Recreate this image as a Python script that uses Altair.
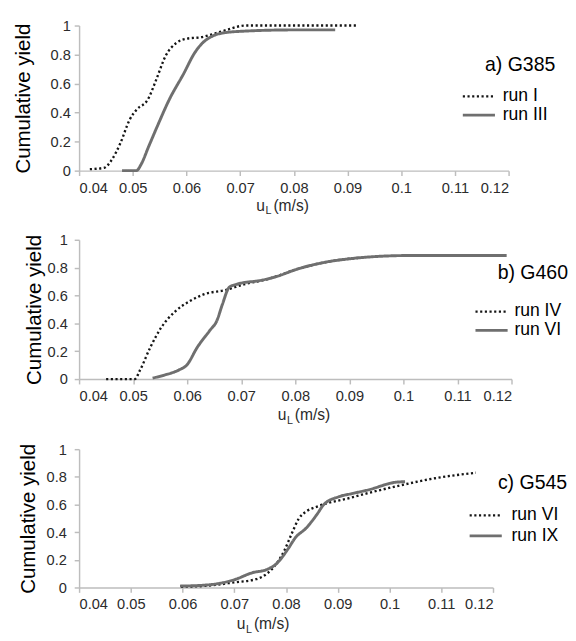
import altair as alt
import pandas as pd

FONT = "Liberation Sans"

# ---------------- data ----------------
# panel a) G385
a_run1_u = [0.042, 0.0447, 0.046, 0.0477, 0.0494, 0.0507, 0.0528, 0.0544, 0.0561, 0.0581,
            0.0601, 0.0628, 0.0648, 0.0675, 0.0709, 0.0917]
a_run1_y = [0.01, 0.02, 0.07, 0.19, 0.35, 0.42, 0.49, 0.63, 0.79, 0.88,
            0.91, 0.92, 0.94, 0.97, 1.0, 1.0]
a_run3_u = [0.048, 0.0507, 0.0515, 0.053, 0.0545, 0.0568, 0.0595, 0.0615, 0.063, 0.065,
            0.067, 0.07, 0.08, 0.0877]
a_run3_y = [0.0, 0.0, 0.04, 0.17, 0.30, 0.49, 0.67, 0.81, 0.88, 0.93,
            0.95, 0.96, 0.97, 0.97]

# panel b) G460
b_run4_u = [0.045, 0.0503, 0.0513, 0.0532, 0.0552, 0.0579, 0.0605, 0.0632, 0.0672, 0.0705,
            0.0751, 0.0804, 0.0857, 0.093]
b_run4_y = [0.0, 0.0, 0.066, 0.23, 0.37, 0.49, 0.56, 0.61, 0.64, 0.68,
            0.72, 0.79, 0.84, 0.875]
b_run6_u = [0.0536, 0.0559, 0.0585, 0.0599, 0.0619, 0.0642, 0.0655, 0.0665, 0.0678, 0.0691,
            0.0738, 0.0764, 0.0804, 0.085, 0.0903, 0.1009, 0.1191]
b_run6_y = [0.007, 0.03, 0.066, 0.1, 0.23, 0.35, 0.42, 0.535, 0.66, 0.68,
            0.71, 0.735, 0.79, 0.835, 0.865, 0.887, 0.887]

# panel c) G545
c_run6_u = [0.0597, 0.0652, 0.070, 0.0742, 0.0763, 0.0783, 0.0797, 0.0811, 0.0825, 0.0839,
            0.086, 0.088, 0.0915, 0.0956, 0.1019, 0.1088, 0.1167]
c_run6_y = [0.005, 0.014, 0.037, 0.06, 0.1, 0.18, 0.27, 0.39, 0.5, 0.55,
            0.585, 0.61, 0.64, 0.68, 0.737, 0.79, 0.83]
c_run9_u = [0.0595, 0.0652, 0.070, 0.0735, 0.0763, 0.0783, 0.0804, 0.0818, 0.0839, 0.086,
            0.0873, 0.0901, 0.0929, 0.0963, 0.0998, 0.101, 0.103]
c_run9_y = [0.01, 0.02, 0.056, 0.107, 0.13, 0.177, 0.28, 0.36, 0.43, 0.53,
            0.6, 0.655, 0.68, 0.71, 0.75, 0.76, 0.765]

x_ticks = [0.04, 0.05, 0.06, 0.07, 0.08, 0.09, 0.1, 0.11, 0.12]
y_ticks = [0, 0.2, 0.4, 0.6, 0.8, 1]

panel_tags = ["a) G385", "b) G460", "c) G545"]
series_names = [["run I", "run III"], ["run IV", "run VI"], ["run VI", "run IX"]]
x_title_sep = ["", "", " "]

DOT_COLOR = "#151515"
SOLID_COLOR = "#6f6f6f"
AXIS_COLOR = "#bdbdbd"
LABEL_COLOR = "#2b2b2b"


def one_text(txt, x, y, size, align="left", baseline="alphabetic", color="#000000"):
    return alt.Chart(pd.DataFrame({"t": [txt]})).mark_text(
        font=FONT, fontSize=size, align=align, baseline=baseline, color=color
    ).encode(text="t:N", x=alt.value(x), y=alt.value(y))


def one_rule(x1, x2, y, color, width, dash):
    return alt.Chart(pd.DataFrame({"t": [0]})).mark_rule(
        color=color, strokeWidth=width, strokeDash=dash
    ).encode(x=alt.value(x1), x2=alt.value(x2), y=alt.value(y))


def panel(i, u1, y1, u2, y2, w, h, title_pad, label_pad, leg, xt):
    n1, n2 = series_names[i]
    df = pd.DataFrame({
        "u": u1 + u2,
        "y": y1 + y2,
        "s": [n1] * len(u1) + [n2] * len(u2),
    })
    dom = [n1, n2]
    lines = alt.Chart(df).mark_line(interpolate="monotone").encode(
        x=alt.X("u:Q", scale=alt.Scale(domain=[0.04, 0.12], nice=False, zero=False),
                axis=alt.Axis(values=x_ticks, format="~g", title=None, labelPadding=5)),
        y=alt.Y("y:Q", scale=alt.Scale(domain=[0, 1], nice=False),
                axis=alt.Axis(values=y_ticks, format="~g", title="Cumulative yield",
                              titlePadding=title_pad, labelPadding=label_pad)),
        color=alt.Color("s:N", scale=alt.Scale(domain=dom, range=[DOT_COLOR, SOLID_COLOR]), legend=None),
        strokeDash=alt.StrokeDash("s:N", scale=alt.Scale(domain=dom, range=[[2.2, 2.6], [1, 0]]), legend=None),
        strokeWidth=alt.StrokeWidth("s:N", scale=alt.Scale(domain=dom, range=[2.4, 3]), legend=None),
        order=alt.Order("u:Q"),
    )
    tx, tb, talign, ey1, ey2, sx, lx = leg
    layers = [
        lines,
        one_text(panel_tags[i], tx, tb, 20, align=talign),
        one_rule(sx, sx + 33, ey1, DOT_COLOR, 2.4, [2.2, 2.6]),
        one_rule(sx, sx + 33, ey2, SOLID_COLOR, 3, [1, 0]),
        one_text(n1, lx, ey1, 18, baseline="middle"),
        one_text(n2, lx, ey2, 18, baseline="middle"),
    ]
    xx, xy = xt
    layers += [
        one_text("u", xx, xy, 16, color=LABEL_COLOR),
        one_text("L", xx + 9.5, xy + 4, 11, color=LABEL_COLOR),
        one_text(x_title_sep[i] + "(m/s)", xx + 17.5, xy, 16, color=LABEL_COLOR),
    ]
    return alt.layer(*layers).properties(width=w, height=h).resolve_scale(
        color="independent", strokeDash="independent", strokeWidth="independent"
    )


pa = panel(0, a_run1_u, a_run1_y, a_run3_u, a_run3_y, 441, 149, 17, 4,
           (489, 47, "right", 72.7, 92, 394, 435), (182, 190))
pb = panel(1, b_run4_u, b_run4_y, b_run6_u, b_run6_y, 444, 143, 3, 7,
           (502, 40, "right", 73.7, 93, 407, 447), (204, 185))
pc = panel(2, c_run6_u, c_run6_y, c_run9_u, c_run9_y, 425, 142, 8, 8,
           (430, 41, "left", 68, 89, 401, 444), (162, 185))

chart = alt.vconcat(pa, pb, pc, spacing=17).resolve_scale(
    color="independent", strokeDash="independent", strokeWidth="independent"
).properties(
    padding={"top": 2.5, "left": 5, "right": 0, "bottom": 0}
).configure_view(stroke=None).configure_axis(
    grid=False,
    domainColor=AXIS_COLOR,
    domainWidth=1.5,
    tickColor=AXIS_COLOR,
    tickWidth=1.5,
    tickSize=5,
    labelFont=FONT,
    labelFontSize=15,
    labelColor=LABEL_COLOR,
    titleFont=FONT,
    titleFontSize=21,
    titleFontWeight="normal",
    titleColor="#000000",
)

chart.save("out.html", embed_options={"renderer": "svg", "actions": False})
